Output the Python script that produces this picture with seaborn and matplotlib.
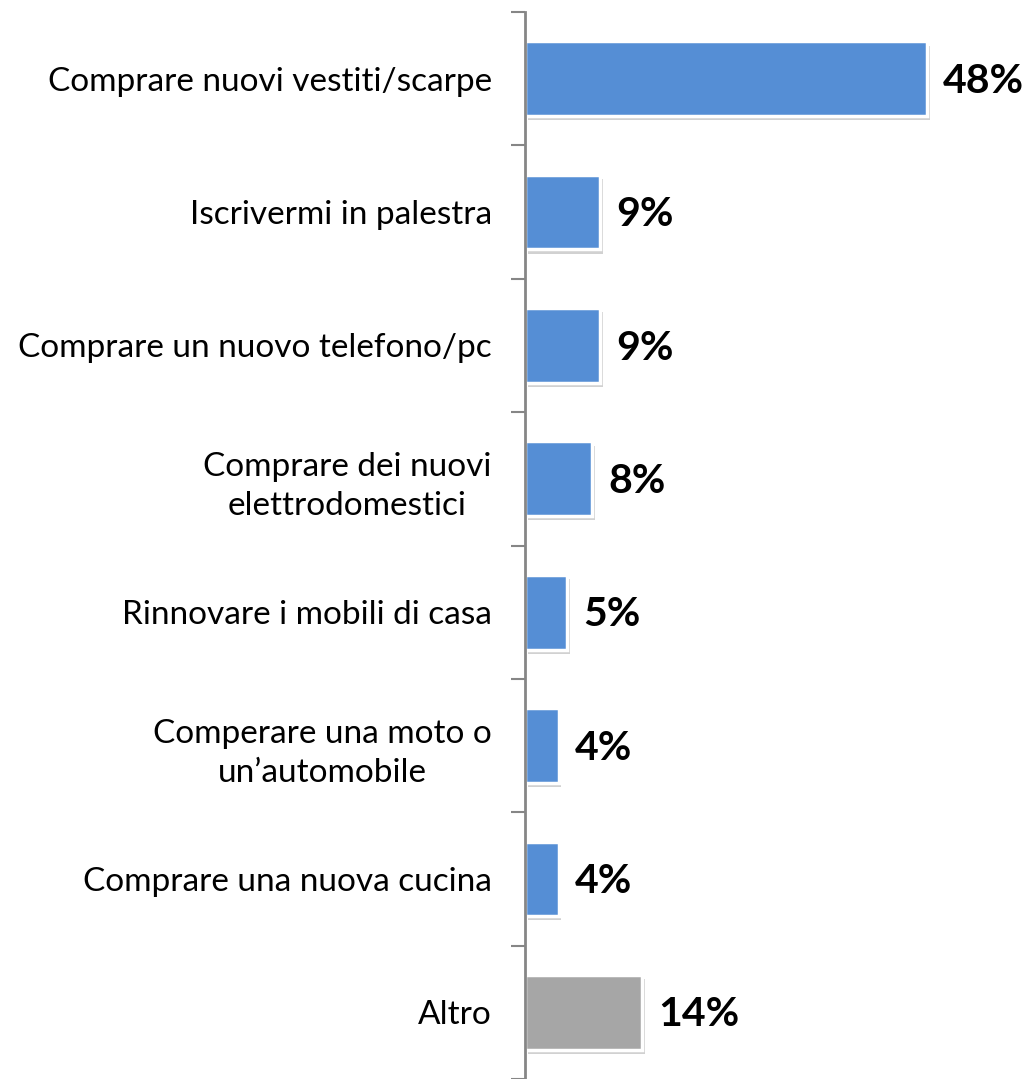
import matplotlib
matplotlib.use("Agg")
import matplotlib.pyplot as plt
import matplotlib.patheffects as pe
import seaborn as sns
import pandas as pd

categories = [
    "Comprare nuovi vestiti/scarpe",
    "Iscrivermi in palestra",
    "Comprare un nuovo telefono/pc",
    "Comprare dei nuovi\nelettrodomestici",
    "Rinnovare i mobili di casa",
    "Comperare una moto o\nun\u2019automobile",
    "Comprare una nuova cucina",
    "Altro",
]
values = [48, 9, 9, 8, 5, 4, 4, 14]
value_labels = ["48%", "9%", "9%", "8%", "5%", "4%", "4%", "14%"]
bar_colors = ["#558ED5"] * 7 + ["#A6A6A6"]

sns.set_theme(style="white")
plt.rcParams["font.family"] = ["Lato", "DejaVu Sans"]

df = pd.DataFrame({"cat": categories, "val": values})

fig = plt.figure(figsize=(10.32, 10.79), dpi=100)
ax = fig.add_axes([525 / 1032, 0.0, 1 - 525 / 1032, 1 - 12 / 1079])

sns.barplot(data=df, x="val", y="cat", hue="cat", palette=bar_colors,
            legend=False, width=0.56, ax=ax, saturation=1,
            edgecolor="white", linewidth=2.5)

for p in ax.patches:
    p.set_path_effects([pe.SimplePatchShadow(offset=(2, -3), shadow_rgbFace="#999999", alpha=0.45),
                        pe.Normal()])

for i, (v, lab) in enumerate(zip(values, value_labels)):
    ax.text(v + 1.9, i + 0.02, lab, va="center", ha="left", fontsize=29.5,
            fontweight="bold", color="black")

ax.set_xlim(0, 60.5)
ax.set_ylim(7.5, -0.5)
ax.set_xlabel("")
ax.set_ylabel("")
ax.set_xticks([])

ax.set_yticks([i - 0.5 for i in range(9)], minor=False)
ax.set_yticklabels([])
ax.set_yticks(range(len(categories)), minor=True)
ax.set_yticklabels(categories, minor=True, fontsize=24, color="#000000",
                   multialignment="center", linespacing=1.4)
ax.tick_params(axis="y", which="major", left=True, length=10, width=1.5,
               color="#868686", direction="out")
ax.tick_params(axis="y", which="minor", left=False, length=0, pad=24)

for s in ["top", "right", "bottom"]:
    ax.spines[s].set_visible(False)
ax.spines["left"].set_color("#868686")
ax.spines["left"].set_linewidth(2)

fig.savefig("out.png", dpi=100, facecolor="white")
